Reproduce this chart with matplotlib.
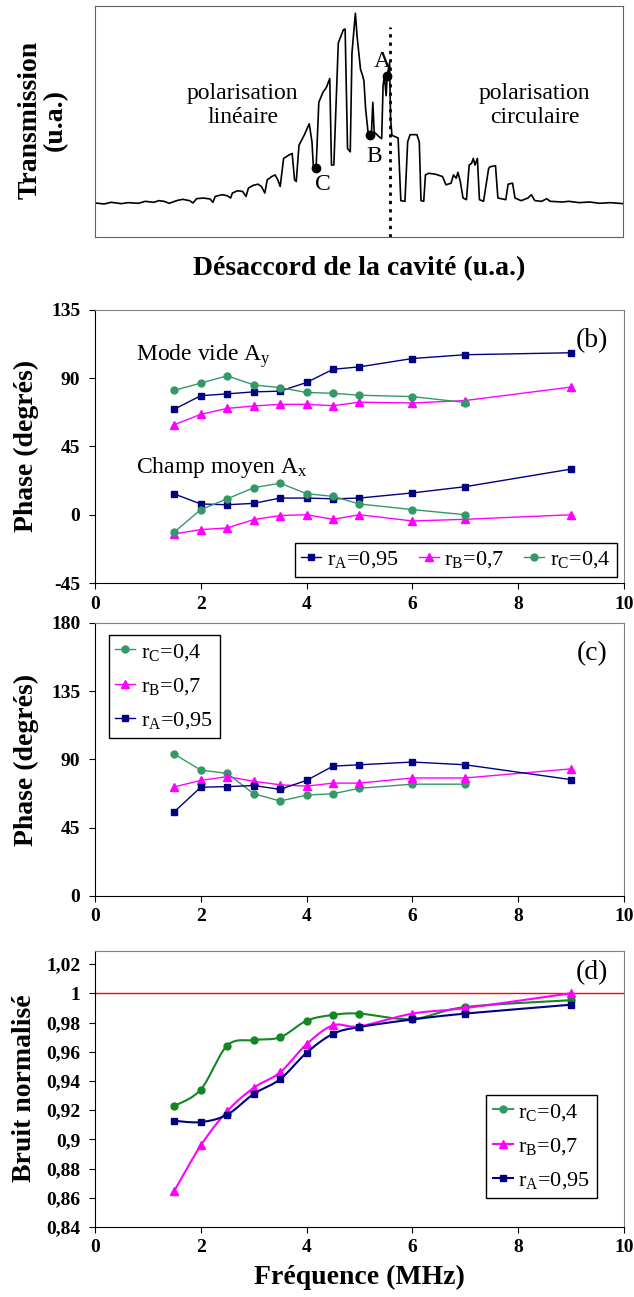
import numpy as np
import matplotlib
matplotlib.use('Agg')
import matplotlib.pyplot as plt
from matplotlib.ticker import FuncFormatter

plt.rcParams['font.family'] = ['Liberation Serif', 'DejaVu Serif']
plt.rcParams['mathtext.fontset'] = 'custom'
plt.rcParams['mathtext.rm'] = 'Liberation Serif'
plt.rcParams['mathtext.it'] = 'Liberation Serif:italic'
plt.rcParams['mathtext.bf'] = 'Liberation Serif:bold'
plt.rcParams['axes.unicode_minus'] = False

# ---- (a) transmission scan (arbitrary units)
trace_x = [0, 27, 47, 77, 97, 127, 147, 172, 187, 202, 217, 242, 257, 277, 287, 297, 317, 337, 345,
           352, 372, 387, 397, 402, 417, 432, 442, 449, 462, 477, 487, 497, 504, 517, 527, 535, 542,
           552, 567, 577, 584, 589, 597, 612, 627, 635, 639, 647, 655, 667, 677, 687, 692, 699,
           712, 727, 732, 739, 747, 752, 762, 767, 777, 782, 787, 792, 799, 805, 809, 813, 817,
           832, 839, 843, 847, 852, 855, 862, 865, 869, 887, 895, 907, 915, 922, 942, 949, 954,
           962, 967, 977, 997, 1017, 1027, 1042, 1049, 1057, 1062, 1069, 1077, 1087, 1095, 1102,
           1107, 1112, 1119, 1125, 1137, 1152, 1157, 1172, 1179, 1202, 1209, 1222, 1229, 1247,
           1267, 1277, 1287, 1307, 1322, 1332, 1367, 1387, 1417, 1447, 1477, 1507, 1545]
trace_y = [103, 100, 105, 101, 104, 102, 108, 105, 110, 108, 102, 111, 114, 110, 103, 116, 118, 115, 105,
           123, 128, 125, 118, 133, 140, 138, 123, 148, 156, 160, 153, 133, 173, 183, 188, 173, 153,
           238, 248, 253, 173, 168, 278, 308, 343, 288, 213, 208, 408, 438, 453, 480, 218, 218,
           588, 628, 630, 268, 258, 558, 678, 608, 508, 493, 473, 388, 318, 310, 313, 408, 318,
           303, 298, 458, 488, 428, 488, 528, 358, 308, 300, 110, 108, 288, 310, 310, 288, 110,
           108, 188, 193, 190, 183, 158, 163, 188, 178, 196, 168, 118, 113, 218, 223,
           238, 218, 238, 113, 108, 208, 213, 216, 118, 113, 160, 163, 118, 110,
           118, 128, 110, 108, 116, 108, 106, 108, 104, 106, 102, 104, 101]
pts_x = [855, 805, 647]
pts_y = [488, 310, 208]
pts_lab = ['A', 'B', 'C']
lab_x = [842, 817, 667]
lab_y = [533, 243, 158]
cut_x = 862

# ---- frequencies (MHz)
freq = [1.5, 2, 2.5, 3, 3.5, 4, 4.5, 5, 6, 7, 9]

# (b) phase, mode vide (Ay) and champ moyen (Ax)
vide_A = [69.6, 78.5, 79.7, 81.0, 81.5, 87.2, 95.9, 97.5, 103.0, 105.5, 106.8]
vide_B = [59.4, 66.2, 70.1, 71.7, 72.8, 72.8, 71.9, 74.2, 73.7, 75.3, 84.2]
vide_C = [82.0, 86.8, 91.6, 85.6, 83.8, 80.6, 80.1, 78.8, 77.9, 74.0]
moy_A = [13.7, 7.1, 6.6, 7.5, 11.0, 11.0, 10.5, 11.0, 14.4, 18.5, 30.1]
moy_B = [-12.6, -9.8, -8.7, -3.2, -0.5, 0.0, -3.0, 0.0, -4.1, -3.0, 0.0]
moy_C = [-11.4, 3.4, 10.5, 17.8, 20.8, 13.9, 12.1, 7.1, 3.4, 0.0]

# (c) phase
c_A = [55.5, 71.7, 72.1, 72.8, 70.3, 76.2, 85.6, 86.5, 88.3, 86.5, 76.7]
c_B = [71.9, 76.2, 78.7, 75.6, 73.3, 72.4, 74.4, 74.4, 77.8, 77.8, 83.8]
c_C = [93.5, 83.0, 80.8, 67.4, 62.6, 66.5, 67.4, 71.0, 73.7, 73.7]

# (d) bruit normalise
d_A = [0.9127, 0.9118, 0.9169, 0.9311, 0.9412, 0.9593, 0.9722, 0.9769, 0.9821, 0.9861, 0.9922]
d_B = [0.8647, 0.8958, 0.9193, 0.9353, 0.9459, 0.9652, 0.9781, 0.9774, 0.9861, 0.9899, 1.0]
d_C = [0.9228, 0.9341, 0.9642, 0.9680, 0.9699, 0.9812, 0.9852, 0.9861, 0.9824, 0.9906, 0.9953]

lab_A = r'r$_\mathrm{A}$=0,95'
lab_B = r'r$_\mathrm{B}$=0,7'
lab_C = r'r$_\mathrm{C}$=0,4'
navy = '#000080'
mag = '#FF00FF'
green = '#339966'


def smooth(x, y, n=16):
    # excel-like smoothed line (bezier through the points)
    x = np.asarray(x, float)
    y = np.asarray(y, float)
    px = np.concatenate([[x[0]], x, [x[-1]]])
    py = np.concatenate([[y[0]], y, [y[-1]]])
    t = np.linspace(0, 1, n)[:, None]
    xs, ys = [], []
    for i in range(1, len(px) - 2):
        p0 = np.array([px[i], py[i]])
        p3 = np.array([px[i + 1], py[i + 1]])
        p1 = p0 + (p3 - np.array([px[i - 1], py[i - 1]])) / 6
        p2 = p3 - (np.array([px[i + 2], py[i + 2]]) - p0) / 6
        seg = (1 - t) ** 3 * p0 + 3 * (1 - t) ** 2 * t * p1 + 3 * (1 - t) * t ** 2 * p2 + t ** 3 * p3
        xs.extend(seg[:, 0])
        ys.extend(seg[:, 1])
    return xs, ys


def style_axes(ax):
    ax.spines['top'].set_color('#808080')
    ax.spines['right'].set_color('#808080')
    ax.tick_params(direction='out', length=4, width=0.8, labelsize=14)
    ax.tick_params(axis='y', pad=6.5)
    ax.tick_params(axis='x', pad=5)
    ax.set_xlim(0, 10)
    ax.set_xticks([0, 2, 4, 6, 8, 10])
    for lbl in ax.get_xticklabels() + ax.get_yticklabels():
        lbl.set_fontweight('bold')


def legend(ax, **kw):
    lg = ax.legend(fontsize=16, handlelength=0.9, handletextpad=0.25, borderpad=0.3,
                   borderaxespad=0, fancybox=False, framealpha=1, edgecolor='black', **kw)
    lg.get_frame().set_linewidth(1)
    return lg


fig = plt.figure(figsize=(6.34, 12.97), dpi=100)

# ---------------- (a)
axa = fig.add_axes([0.1498, 0.8173, 0.8328, 0.1781])
axa.plot(trace_x, trace_y, color='black', lw=1.2)
axa.plot(pts_x, pts_y, 'o', color='black', ms=6)
axa.plot([cut_x, cut_x], [0, 636], color='black', lw=2, linestyle=(0, (1.2, 1.8)))
for i in range(len(pts_lab)):
    axa.text(lab_x[i], lab_y[i], pts_lab[i], fontsize=17, ha='center', va='center')
axa.text(432, 398, 'polarisation\nlinéaire', fontsize=17, ha='center', va='center')
axa.text(1287, 398, 'polarisation\ncirculaire', fontsize=17, ha='center', va='center')
axa.set_xlim(0, 1545)
axa.set_ylim(0, 700)
axa.set_xticks([])
axa.set_yticks([])
for s in axa.spines.values():
    s.set_color('#606060')
fig.text(0.068, 0.9075, 'Transmission\n(u.a.)', rotation=90, fontsize=20, fontweight='bold',
         ha='center', va='center', linespacing=1.0)
fig.text(0.566, 0.793, 'Désaccord de la cavité (u.a.)', fontsize=20, fontweight='bold',
         ha='center', va='center')

# ---------------- (b)
axb = fig.add_axes([0.1498, 0.5505, 0.8344, 0.2105])
axb.plot(freq, vide_A, '-s', color=navy, lw=1, ms=5, label=lab_A)
axb.plot(freq, vide_B, '-^', color=mag, lw=1, ms=6, label=lab_B)
axb.plot(freq[:10], vide_C, '-o', color=green, lw=1, ms=5, label=lab_C)
axb.plot(freq, moy_A, '-s', color=navy, lw=1, ms=5)
axb.plot(freq, moy_B, '-^', color=mag, lw=1, ms=6)
axb.plot(freq[:10], moy_C, '-o', color=green, lw=1, ms=5)
axb.set_ylim(-45, 135)
axb.set_yticks([-45, 0, 45, 90, 135])
style_axes(axb)
axb.text(0.78, 104.5, r'Mode vide A$_\mathrm{y}$', fontsize=17, va='center')
axb.text(0.78, 31, r'Champ moyen A$_\mathrm{x}$', fontsize=17, va='center')
axb.text(0.94, 0.886, '(b)', fontsize=20, ha='center', va='center', transform=axb.transAxes)
legend(axb, loc='lower right', bbox_to_anchor=(0.987, 0.022), ncol=3, columnspacing=0.9)
fig.text(0.042, 0.656, 'Phase (degrés)', rotation=90, fontsize=20, fontweight='bold',
         ha='center', va='center')

# ---------------- (c)
axc = fig.add_axes([0.1498, 0.3092, 0.8344, 0.2105])
axc.plot(freq[:10], c_C, '-o', color=green, lw=1, ms=5, label=lab_C)
axc.plot(freq, c_B, '-^', color=mag, lw=1, ms=6, label=lab_B)
axc.plot(freq, c_A, '-s', color=navy, lw=1, ms=5, label=lab_A)
axc.set_ylim(0, 180)
axc.set_yticks([0, 45, 90, 135, 180])
style_axes(axc)
axc.text(0.94, 0.886, '(c)', fontsize=20, ha='center', va='center', transform=axc.transAxes)
legend(axc, loc='upper left', bbox_to_anchor=(0.026, 0.956), labelspacing=0.6)
fig.text(0.042, 0.414, 'Phase (degrés)', rotation=90, fontsize=20, fontweight='bold',
         ha='center', va='center')

# ---------------- (d)
axd = fig.add_axes([0.1498, 0.0540, 0.8344, 0.2128])
axd.axhline(1.0, color='red', lw=1)
xs, ys = smooth(freq, d_C)
axd.plot(xs, ys, '-', color='#118822', lw=1.5)
axd.plot(freq, d_C, 'o', color='#118822', ms=5)
xs, ys = smooth(freq, d_B)
axd.plot(xs, ys, '-', color=mag, lw=1.5)
axd.plot(freq, d_B, '^', color=mag, ms=6)
xs, ys = smooth(freq, d_A)
axd.plot(xs, ys, '-', color=navy, lw=1.5)
axd.plot(freq, d_A, 's', color=navy, ms=5)
axd.plot([], [], '-o', color=green, lw=1.5, ms=5, label=lab_C)
axd.plot([], [], '-^', color=mag, lw=1.5, ms=6, label=lab_B)
axd.plot([], [], '-s', color=navy, lw=1.5, ms=5, label=lab_A)
axd.set_ylim(0.84, 1.029)
axd.set_yticks(np.arange(0.84, 1.021, 0.02))
axd.yaxis.set_major_formatter(FuncFormatter(
    lambda v, p: ('%.2f' % v).rstrip('0').rstrip('.').replace('.', ',')))
style_axes(axd)
axd.text(0.94, 0.92, '(d)', fontsize=20, ha='center', va='center', transform=axd.transAxes)
legend(axd, loc='lower right', bbox_to_anchor=(0.949, 0.105), labelspacing=0.6)
axd.set_xlabel('Fréquence (MHz)', fontsize=20, fontweight='bold', labelpad=6)
fig.text(0.038, 0.161, 'Bruit normalisé', rotation=90, fontsize=20, fontweight='bold',
         ha='center', va='center')

fig.savefig('out.png', dpi=100)
